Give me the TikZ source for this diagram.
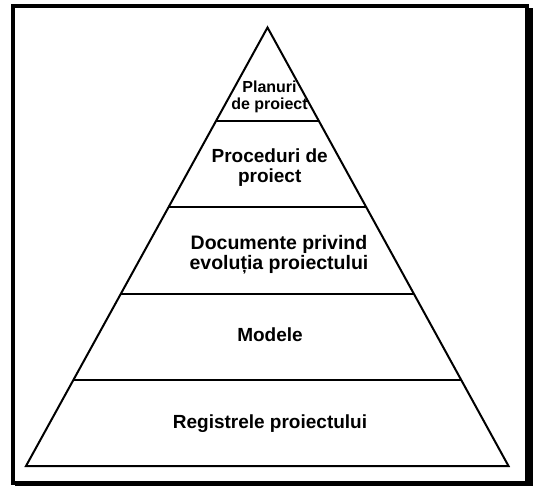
\documentclass[tikz,border=0pt]{standalone}
\usepackage{fontspec}
\setmainfont{Liberation Sans}
\newfontfamily\heavysans{Liberation Sans Bold}
\usetikzlibrary{calc}
\begin{document}
\begin{tikzpicture}[x=1pt,y=-1pt,
  edge/.style={line width=2pt, line join=miter},
  level/.style={inner sep=0pt, anchor=base, align=center, font=\heavysans\fontsize{19}{20}\selectfont},
  smalllevel/.style={level, font=\heavysans\fontsize{16}{16.6}\selectfont}]
  \useasboundingbox (0,0) rectangle (537,485);
  % framed page with drop shadow
  \fill[black] (15,8) rectangle (532.7,489);
  \draw[line width=4pt, fill=white] (13,6) rectangle (526.7,483);
  % pyramid outline
  \coordinate (apex) at (267.5,27.5);
  \coordinate (bl) at (26,466);
  \coordinate (br) at (508.5,466);
  \draw[edge] (apex) -- (bl) -- (br) -- cycle;
  % level dividers
  \foreach \t [count=\i] in {0.21323,0.40935,0.60776,0.80388} {
    \coordinate (l\i) at ($(apex)!\t!(bl)$);
    \coordinate (r\i) at ($(apex)!\t!(br)$);
    \draw[edge] (l\i) -- (r\i);
  }
  % level labels (base anchor sits on the last line)
  \node[smalllevel] (planuri) at (269.5,109.3) {Planuri\\de proiect};
  \node[level] (proceduri) at (269.7,182) {Proceduri de\\proiect};
  \node[level, font=\heavysans\fontsize{19.5}{20}\selectfont] (documente) at (279,269.5) {Documente privind\\evoluția proiectului};
  \node[level] (modele) at (270,341.7) {Modele};
  \node[level] (registrele) at (270,428.3) {Registrele proiectului};
\end{tikzpicture}
\end{document}
